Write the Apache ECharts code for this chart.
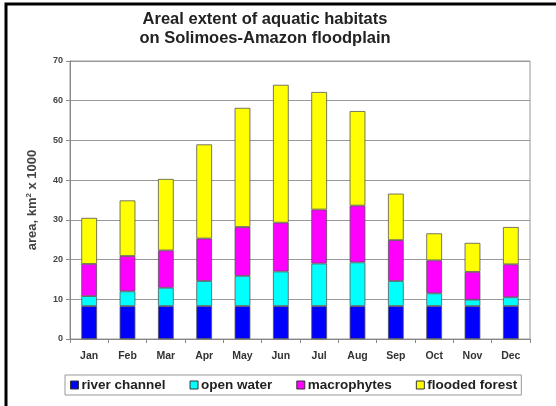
<!DOCTYPE html>
<html>
<head>
<meta charset="utf-8">
<script src="https://cdn.jsdelivr.net/npm/echarts@6/dist/echarts.min.js"></script>
<style>
  html, body { margin: 0; padding: 0; background: #fff; }
  #chart { width: 556px; height: 406px; }
</style>
</head>
<body>
<div id="chart"></div>
<script>
var months = ['Jan','Feb','Mar','Apr','May','Jun','Jul','Aug','Sep','Oct','Nov','Dec'];
var riverChannel = [8.3, 8.3, 8.3, 8.3, 8.3, 8.3, 8.3, 8.3, 8.3, 8.3, 8.3, 8.3];
var openWater = [2.5, 3.7, 4.6, 6.3, 7.6, 8.7, 10.7, 11.0, 6.3, 3.2, 1.6, 2.2];
var macrophytes = [8.1, 8.9, 9.4, 10.7, 12.3, 12.3, 13.6, 14.3, 10.3, 8.3, 7.0, 8.3];
var floodedForest = [11.6, 14.0, 18.0, 23.7, 30.0, 34.7, 29.6, 23.8, 11.7, 6.8, 7.3, 9.4];

var names = ['river channel', 'open water', 'macrophytes', 'flooded forest'];
var values = [riverChannel, openWater, macrophytes, floodedForest];
var color = ['#0000ff', '#00ffff', '#ff00ff', '#ffff00'];

var series = [];
for (var i = 0; i < names.length; i++) {
  series.push({
    name: names[i],
    type: 'bar',
    stack: 'area',
    barWidth: '41%',
    data: values[i],
    itemStyle: {
      color: color[i],
      borderColor: '#555',
      borderWidth: 0.8
    }
  });
}

var font = 'Liberation Sans, Arial, sans-serif';

var option = {
  backgroundColor: '#fff',
  animation: false,
  color: color,
  textStyle: { fontFamily: font },
  title: {
    text: 'Areal extent of aquatic habitats\non Solimoes-Amazon floodplain',
    left: 260,
    textAlign: 'center',
    top: 5,
    textStyle: {
      fontFamily: font,
      fontSize: 16.5,
      fontWeight: 'bold',
      color: '#222',
      lineHeight: 19
    }
  },
  grid: {
    left: 70,
    right: 26,
    top: 61,
    bottom: 67,
    show: true,
    borderColor: '#999',
    borderWidth: 1
  },
  legend: {
    left: 65,
    top: 375,
    itemWidth: 8,
    itemHeight: 8,
    itemGap: 24,
    padding: [3, 4, 3, 5],
    borderColor: '#999',
    borderWidth: 1,
    icon: 'rect',
    textStyle: {
      fontFamily: font,
      fontSize: 13.5,
      fontWeight: 'bold',
      color: '#222',
      padding: [0, 0, 0, -2]
    },
    itemStyle: { borderColor: '#333', borderWidth: 1 }
  },
  xAxis: {
    type: 'category',
    data: months,
    axisLine: { lineStyle: { color: '#888' } },
    axisTick: { show: true, length: 4, lineStyle: { color: '#888' } },
    axisLabel: {
      fontFamily: font,
      fontSize: 10.5,
      fontWeight: 'bold',
      color: '#333',
      margin: 12
    }
  },
  yAxis: {
    type: 'value',
    min: 0,
    max: 70,
    interval: 10,
    name: 'area, km{sup|2} x 1000',
    nameLocation: 'middle',
    nameGap: 30,
    nameTextStyle: {
      fontFamily: font,
      fontSize: 13,
      fontWeight: 'bold',
      color: '#444',
      rich: {
        sup: { fontSize: 8, fontWeight: 'bold', color: '#444', verticalAlign: 'top', padding: [0, 0, 7, 0] }
      }
    },
    axisLine: { show: true, lineStyle: { color: '#888' } },
    axisTick: { show: true, length: 4, lineStyle: { color: '#888' } },
    axisLabel: {
      fontFamily: font,
      fontSize: 9,
      fontWeight: 'bold',
      color: '#444',
      margin: 7
    },
    splitLine: { lineStyle: { color: '#999', width: 1 } }
  },
  graphic: {
    elements: [{
      type: 'polyline',
      shape: { points: [[6, 406], [6, 4], [556, 4]] },
      style: { stroke: '#000', lineWidth: 3, fill: null }
    }]
  },
  series: series
};

var chartDom = document.getElementById('chart');
var myChart = echarts.init(chartDom);
myChart.setOption(option);
</script>
</body>
</html>
